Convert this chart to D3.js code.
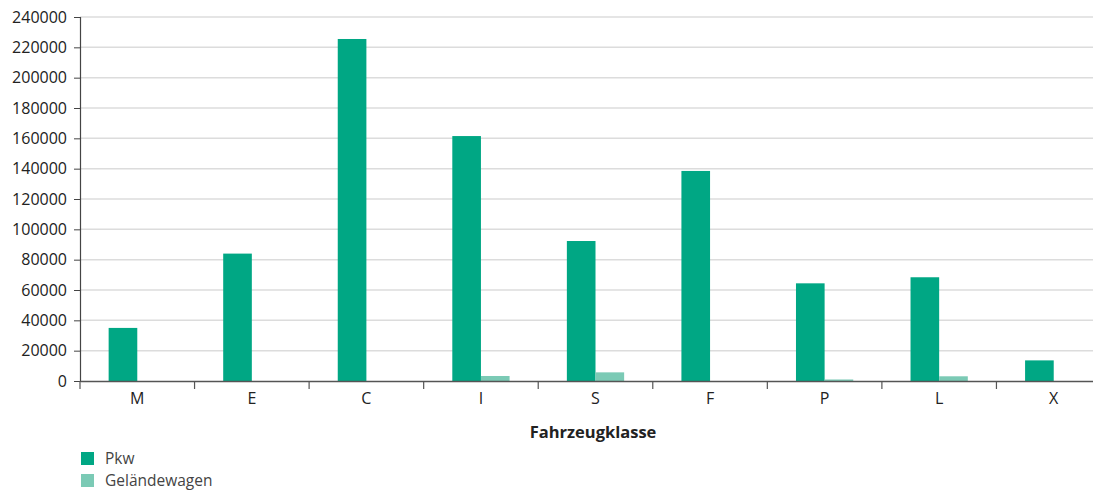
<!DOCTYPE html>
<html>
<head>
<meta charset="utf-8">
<script src="https://cdn.jsdelivr.net/npm/d3@7"></script>
<style>
  body { margin: 0; background: #fff; overflow: hidden; }
  svg { font-family: "Open Sans", "Noto Sans", sans-serif; }
</style>
</head>
<body>
<svg id="chart" width="1093" height="490"></svg>
<script>
const categories = ["M", "E", "C", "I", "S", "F", "P", "L", "X"];
const seriesNames = ["Pkw", "Geländewagen"];
const pkw = [35000, 84000, 225500, 161500, 92300, 138500, 64400, 68400, 13600];
const gelaende = [0, 0, 0, 3300, 5700, 0, 1000, 3100, 0];
const yTicks = [0, 20000, 40000, 60000, 80000, 100000, 120000, 140000, 160000, 180000, 200000, 220000, 240000];
const colors = ["#00a784", "#7bcab5"];

const svg = d3.select("#chart");
const plotLeft = 80, plotRight = 1111, plotTop = 17, plotBottom = 381;
const fontFamily = '"Open Sans", "Noto Sans", sans-serif';

const xScale = d3.scaleBand()
    .domain(categories)
    .range([plotLeft, plotRight]);

const inner = d3.scaleBand()
    .domain(seriesNames)
    .range([0, xScale.bandwidth()])
    .paddingInner(0)
    .paddingOuter(1);

const yScale = d3.scaleLinear()
    .domain([0, 240000])
    .range([plotBottom, plotTop]);

// grid
svg.append("g")
    .selectAll("line")
    .data(yTicks.slice(1))
    .enter()
    .append("line")
    .attr("x1", plotLeft)
    .attr("x2", 1093)
    .attr("y1", d => yScale(d))
    .attr("y2", d => yScale(d))
    .attr("stroke", "#dcdcdc")
    .attr("stroke-width", 1.5);

const data = categories.map((c, i) => ({ cat: c, values: [pkw[i], gelaende[i]] }));

const groups = svg.append("g")
    .selectAll("g")
    .data(data)
    .enter()
    .append("g")
    .attr("transform", d => `translate(${xScale(d.cat)}, 0)`);

groups.selectAll("rect")
    .data(d => d.values.map((v, j) => ({ name: seriesNames[j], value: v, color: colors[j] })))
    .enter()
    .append("rect")
    .attr("x", d => inner(d.name))
    .attr("y", d => yScale(d.value))
    .attr("width", inner.bandwidth())
    .attr("height", d => plotBottom - yScale(d.value))
    .attr("fill", d => d.color);

// y axis
const yAxis = svg.append("g")
    .attr("transform", `translate(${plotLeft}, 0)`)
    .call(d3.axisLeft(yScale).tickValues(yTicks).tickSize(6).tickPadding(7).tickFormat(d3.format("d")))
    .attr("font-family", fontFamily);
yAxis.select(".domain").attr("stroke", "#444").attr("stroke-width", 1.2);
yAxis.selectAll(".tick line").attr("stroke", "#444");
yAxis.selectAll("text")
    .style("font-size", "16px")
    .attr("fill", "#222");

// x axis
const xAxis = svg.append("g")
    .attr("transform", `translate(0, ${plotBottom})`)
    .call(d3.axisBottom(xScale).tickSize(0).tickPadding(12))
    .attr("font-family", fontFamily);
xAxis.select(".domain").attr("stroke", "#555").attr("stroke-width", 1.5);
xAxis.selectAll("text")
    .style("font-size", "16px")
    .attr("fill", "#222");

svg.append("g")
    .selectAll("line")
    .data(categories)
    .enter()
    .append("line")
    .attr("x1", d => xScale(d))
    .attr("x2", d => xScale(d))
    .attr("y1", plotBottom)
    .attr("y2", plotBottom + 8)
    .attr("stroke", "#555")
    .attr("stroke-width", 1.2);

svg.append("text")
    .attr("x", 593)
    .attr("y", 438)
    .attr("text-anchor", "middle")
    .style("font-size", "16.5px")
    .style("font-weight", "bold")
    .attr("fill", "#222")
    .text("Fahrzeugklasse");

// legend
const legend = svg.append("g")
    .selectAll("g")
    .data(seriesNames)
    .enter()
    .append("g")
    .attr("transform", (d, i) => `translate(81, ${452 + i * 22})`);

legend.append("rect")
    .attr("width", 13)
    .attr("height", 13)
    .attr("fill", (d, i) => colors[i]);

legend.append("text")
    .attr("x", 24)
    .attr("y", 12)
    .style("font-size", "15.5px")
    .attr("fill", "#444")
    .text(d => d);
</script>
</body>
</html>
